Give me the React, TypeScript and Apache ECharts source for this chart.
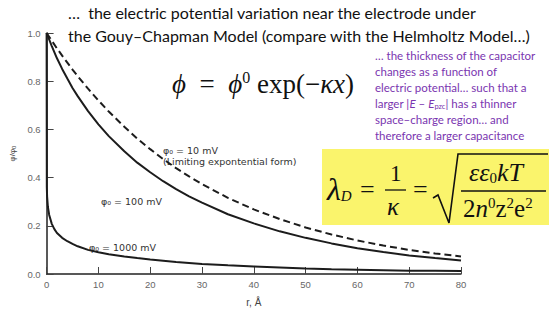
import React, { useEffect, useRef } from "react";
import * as echarts from "echarts";

// distance r (Å) and relative potential φ/φ0
const rMain = [0, 1, 2, 3, 4, 5, 6, 8, 10, 12, 15, 17.5, 20, 22.5, 25, 27.5, 30, 35, 40, 45, 50, 55, 60, 65, 70, 75, 80];
const phi10mV = [1.0, 0.968, 0.936, 0.906, 0.877, 0.848, 0.821, 0.769, 0.72, 0.674, 0.611, 0.562, 0.518, 0.477, 0.439, 0.405, 0.373, 0.316, 0.268, 0.228, 0.193, 0.164, 0.139, 0.118, 0.1, 0.085, 0.073];
const phi100mV = [1.0, 0.946, 0.895, 0.851, 0.811, 0.772, 0.738, 0.676, 0.621, 0.572, 0.509, 0.462, 0.422, 0.385, 0.352, 0.322, 0.296, 0.248, 0.21, 0.177, 0.15, 0.127, 0.107, 0.091, 0.077, 0.066, 0.056];
const r1000 = [0, 0.04, 0.1, 0.25, 0.5, 1, 1.5, 2, 3, 4, 5, 6, 8, 10, 12, 15, 17.5, 20, 25, 30, 35, 40, 45, 50, 55, 60, 65, 70, 75, 80];
const phi1000mV = [1.0, 0.36, 0.32, 0.278, 0.245, 0.208, 0.186, 0.17, 0.15, 0.136, 0.125, 0.115, 0.1, 0.09, 0.082, 0.073, 0.066, 0.06, 0.05, 0.042, 0.036, 0.031, 0.027, 0.023, 0.02, 0.018, 0.016, 0.014, 0.013, 0.012];

const xTicks = { min: 0, max: 80, interval: 10 };
const yTicks = { min: 0, max: 1, interval: 0.2 };

const titleLines = [
  "\u2026  the electric potential variation near the electrode under",
  "the Gouy\u2013Chapman Model (compare with the Helmholtz Model\u2026)",
];
const noteLines = [
  "\u2026 the thickness of the capacitor",
  "changes as a function of",
  "electric potential\u2026 such that a",
  "{t|larger |}{i|E}{t| \u2013 }{i|E}{sub|pzc}{t|| has a thinner}",
  "space\u2013charge region\u2026 and",
  "therefore a larger capacitance",
];
const curveLabels = [
  "\u03C6\u2080 = 10 mV",
  "(Limiting expontential form)",
  "\u03C6\u2080 = 100 mV",
  "\u03C6\u2080 = 1000 mV",
];

const pairs = (xs: number[], ys: number[]) => xs.map((x, i) => [x, ys[i]]);

export default function App() {
  const ref = useRef<HTMLDivElement>(null);
  useEffect(() => {
    if (!ref.current) return;
    const chart = echarts.init(ref.current, null, { renderer: "svg" });
    const axisFont = "Liberation Sans";
    const serif = "Liberation Serif";
    const purple = "#7a35b0";
    const ink = "#111";
    const lineCol = "#1c1c1c";
    const graphics: any[] = [];
    const T = (x: number, y: number, text: string, rich: any, extra: any = {}) =>
      graphics.push({
        type: "text",
        x,
        y,
        style: { text, rich, align: "left", verticalAlign: "middle", fill: ink, ...extra },
      });

    titleLines.forEach((t, i) => {
      T(68, 12 + i * 23, t, {}, { font: "16px Lato", fill: ink });
    });
    const noteRich = {
      t: { fontSize: 11.5, fontFamily: "Lato", fill: purple },
      i: { fontStyle: "italic", fontSize: 11.5, fontFamily: "Lato", fill: purple },
      sub: { fontSize: 7.5, fontFamily: "Lato", fill: purple, padding: [6, 0, 0, 0] },
    };
    noteLines.forEach((t, i) => {
      T(375, 55 + i * 16, t, noteRich, { font: "11.5px Lato", fill: purple });
    });
    // formula φ = φ0 exp(−κx)
    T(
      172,
      84,
      "{i|\u03D5}{a|  =  }{i|\u03D5}{sup|0}{a| exp(\u2212}{i|\u03BAx}{a|)}",
      {
        a: { fontSize: 27, fontFamily: serif, fill: ink },
        i: { fontStyle: "italic", fontSize: 27, fontFamily: serif, fill: ink },
        sup: { fontSize: 16, fontFamily: serif, fill: ink, padding: [0, 0, 13, 0] },
      }
    );
    // yellow box with Debye length
    graphics.push({ type: "rect", shape: { x: 322, y: 149, width: 227, height: 76 }, style: { fill: "#faf46c" } });
    T(327, 189, "{l|\u03BB}{d|D}", {
      l: { fontSize: 32, fontFamily: serif, fontStyle: "italic", fill: ink },
      d: { fontSize: 15, fontFamily: serif, fontStyle: "italic", fill: ink, padding: [14, 0, 0, 0] },
    });
    T(360, 189, "=", {}, { font: `26px ${serif}`, fill: ink });
    T(390, 173, "1", {}, { font: `23px ${serif}`, fill: ink });
    graphics.push({ type: "line", shape: { x1: 385, y1: 190, x2: 406, y2: 190 }, style: { stroke: ink, lineWidth: 1.3 } });
    T(387, 206, "\u03BA", {}, { font: `italic 25px ${serif}`, fill: ink });
    T(413, 189, "=", {}, { font: `26px ${serif}`, fill: ink });
    graphics.push({
      type: "polyline",
      shape: { points: [[433, 198], [438, 195], [449, 223], [458, 154], [548, 154]] },
      style: { stroke: ink, lineWidth: 1.6, fill: "none" },
    });
    T(469, 172, "{i|\u03B5\u03B5}{s|0}{i|kT}", {
      i: { fontSize: 26, fontFamily: serif, fontStyle: "italic", fill: ink },
      s: { fontSize: 15, fontFamily: serif, fill: ink, padding: [11, 0, 0, 0] },
    });
    graphics.push({ type: "line", shape: { x1: 461, y1: 191, x2: 546, y2: 191 }, style: { stroke: ink, lineWidth: 1.3 } });
    T(463, 208, "{a|2}{i|n}{s|0}{a|z}{s|2}{a|e}{s|2}", {
      a: { fontSize: 25, fontFamily: serif, fill: ink },
      i: { fontSize: 25, fontFamily: serif, fontStyle: "italic", fill: ink },
      s: { fontSize: 15, fontFamily: serif, fill: ink, padding: [0, 0, 11, 0] },
    });
    // curve labels
    const labStyle = { font: "9.5px 'DejaVu Sans'", fill: "#333" };
    T(163, 150, curveLabels[0], {}, labStyle);
    T(163, 161, curveLabels[1], {}, labStyle);
    T(101, 201, curveLabels[2], {}, labStyle);
    T(89, 247, curveLabels[3], {}, labStyle);

    const axisCommon = {
      axisLine: { lineStyle: { color: "#222", width: 1.5 } },
      axisTick: { inside: true, length: 7, lineStyle: { color: "#444", width: 1 } },
      splitLine: { show: false },
      axisLabel: { color: "#666", fontSize: 9.5, fontFamily: axisFont },
    };
    chart.setOption({
      animation: false,
      grid: { left: 46, right: 89, top: 33, bottom: 24 },
      xAxis: {
        type: "value",
        ...xTicks,
        ...axisCommon,
        axisLabel: { ...axisCommon.axisLabel, margin: 5 },
        name: "r, \u00C5",
        nameLocation: "middle",
        nameGap: 23,
        nameTextStyle: { color: "#444", fontSize: 10, fontFamily: axisFont },
      },
      yAxis: {
        type: "value",
        ...yTicks,
        ...axisCommon,
        axisLabel: { ...axisCommon.axisLabel, margin: 6, formatter: (v: number) => v.toFixed(1) },
        name: "{t|\u03C6/\u03C6}{s|0}",
        nameLocation: "middle",
        nameGap: 29,
        nameTextStyle: {
          rich: {
            t: { color: "#444", fontSize: 8, fontFamily: axisFont },
            s: { color: "#444", fontSize: 6, fontFamily: axisFont, padding: [3, 0, 0, 0] },
          },
        },
      },
      graphic: graphics,
      series: [
        {
          type: "line",
          data: pairs(rMain, phi10mV),
          showSymbol: false,
          smooth: false,
          lineStyle: { color: lineCol, width: 2, type: [7, 4] },
        },
        {
          type: "line",
          data: pairs(rMain, phi100mV),
          showSymbol: false,
          smooth: false,
          lineStyle: { color: lineCol, width: 2 },
        },
        {
          type: "line",
          data: pairs(r1000, phi1000mV),
          showSymbol: false,
          smooth: false,
          lineStyle: { color: lineCol, width: 2 },
        },
      ],
    });
    return () => chart.dispose();
  }, []);
  return (
    <div style={{ position: "fixed", left: 0, top: 0, width: 550, height: 312, background: "#fff" }}>
      <div ref={ref} style={{ width: 550, height: 312 }} />
    </div>
  );
}
